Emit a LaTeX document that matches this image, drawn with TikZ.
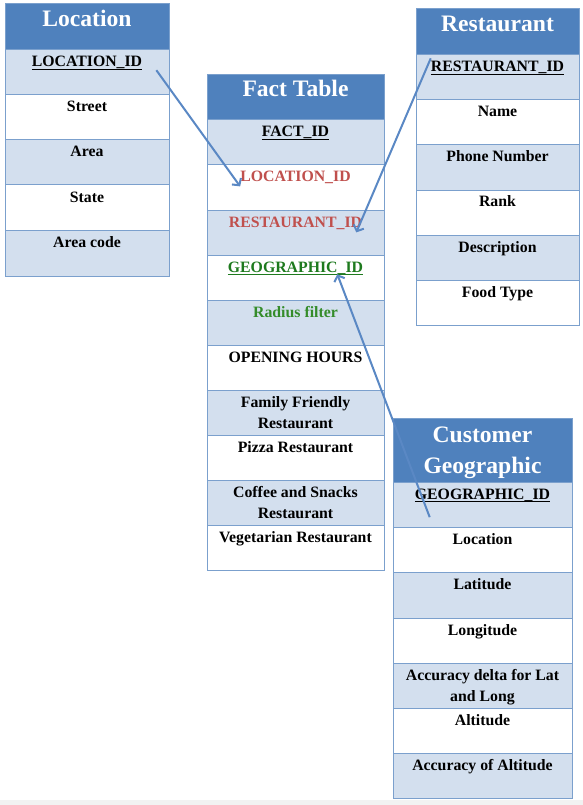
\documentclass[tikz,border=0pt]{standalone}
\usepackage{fontspec}
\setmainfont{Liberation Serif}
\usetikzlibrary{arrows.meta}
\usetikzlibrary{calc}

\definecolor{hdrblue}{RGB}{79,129,189}
\definecolor{rowblue}{RGB}{211,223,238}
\definecolor{edgeblue}{RGB}{123,160,205}
\definecolor{linkblue}{RGB}{90,136,196}
\definecolor{fkred}{RGB}{192,80,77}
\definecolor{geogreen}{RGB}{30,122,30}
\definecolor{radgreen}{RGB}{52,140,42}

\newcommand\fieldfont{\fontsize{15.8}{21}\selectfont\bfseries}
\newcommand\titlefont{\fontsize{23.6}{31}\selectfont\bfseries}
\newsavebox\keybox
\newcommand\keyline[1]{\sbox\keybox{#1}\rlap{\rule[-3pt]{\wd\keybox}{1.1pt}}\usebox\keybox}

\tikzset{
  hdr/.style={draw=edgeblue,line width=1pt,fill=hdrblue},
  oddrow/.style={draw=edgeblue,line width=1pt,fill=rowblue},
  evenrow/.style={draw=edgeblue,line width=1pt,fill=white},
  fld/.style={anchor=base,inner sep=0pt,font=\fieldfont,align=center},
  ttl/.style={anchor=base,inner sep=0pt,font=\titlefont,text=white,align=center},
  link/.style={draw=linkblue,line width=2pt,-{Straight Barb[length=5pt,width=11pt]}}
}

\begin{document}
\begin{tikzpicture}[x=1pt,y=-1pt]
\useasboundingbox (0,0) rectangle (583,805);
\fill[gray!10] (0,800) rectangle (583,805);

\draw[hdr] (5,4) rectangle (169,50);
\node[ttl] (loctitle) at (87,27) {Location};
\draw[oddrow] (5,50) rectangle (169,95);
\node[fld] (lockey) at (87,67) {\keyline{LOCATION\_ID}};
\draw[evenrow] (5,95) rectangle (169,140);
\node[fld] (locstreet) at (87,112) {Street};
\draw[oddrow] (5,140) rectangle (169,185);
\node[fld] (locarea) at (87,157) {Area};
\draw[evenrow] (5,185) rectangle (169,230);
\node[fld] (locstate) at (87,202) {State};
\draw[oddrow] (5,230) rectangle (169,276);
\node[fld] (loccode) at (87,247) {Area code};

\draw[hdr] (207,75) rectangle (384,120);
\node[ttl] (facttitle) at (295.5,97) {Fact Table};
\draw[oddrow] (207,120) rectangle (384,165);
\node[fld] (fkey) at (295.5,137) {\keyline{FACT\_ID}};
\draw[evenrow] (207,165) rectangle (384,210);
\node[fld,text=fkred] (flocid) at (295.5,182) {LOCATION\_ID};
\draw[oddrow] (207,210) rectangle (384,255);
\node[fld,text=fkred] (fresid) at (295.5,227) {RESTAURANT\_ID};
\draw[evenrow] (207,255) rectangle (384,300);
\node[fld,text=geogreen] (fgeoid) at (295.5,272) {\keyline{GEOGRAPHIC\_ID}};
\draw[oddrow] (207,300) rectangle (384,345);
\node[fld,text=radgreen] (fradius) at (295.5,317) {Radius filter};
\draw[evenrow] (207,345) rectangle (384,390);
\node[fld] (fhours) at (295.5,362) {OPENING HOURS};
\draw[oddrow] (207,390) rectangle (384,435);
\node[fld] (ffamily) at (295.5,428) {Family Friendly\\Restaurant};
\draw[evenrow] (207,435) rectangle (384,480);
\node[fld] (fpizza) at (295.5,452) {Pizza Restaurant};
\draw[oddrow] (207,480) rectangle (384,525);
\node[fld] (fcoffee) at (295.5,518) {Coffee and Snacks\\Restaurant};
\draw[evenrow] (207,525) rectangle (384,570);
\node[fld] (fveg) at (295.5,542) {Vegetarian Restaurant};

\draw[hdr] (416,9) rectangle (579,55);
\node[ttl] (restitle) at (497.5,32) {Restaurant};
\draw[oddrow] (416,55) rectangle (579,100);
\node[fld] (reskey) at (497.5,72) {\keyline{RESTAURANT\_ID}};
\draw[evenrow] (416,100) rectangle (579,145);
\node[fld] (resname) at (497.5,117) {Name};
\draw[oddrow] (416,145) rectangle (579,190);
\node[fld] (resphone) at (497.5,162) {Phone Number};
\draw[evenrow] (416,190) rectangle (579,235);
\node[fld] (resrank) at (497.5,207) {Rank};
\draw[oddrow] (416,235) rectangle (579,280);
\node[fld] (resdesc) at (497.5,252) {Description};
\draw[evenrow] (416,280) rectangle (579,325);
\node[fld] (resfood) at (497.5,297) {Food Type};

\draw[hdr] (393,418) rectangle (572,482);
\node[ttl] (cgtitle) at (482.5,473) {Customer\\Geographic};
\draw[oddrow] (393,482) rectangle (572,527);
\node[fld] (cgkey) at (482.5,499) {\keyline{GEOGRAPHIC\_ID}};
\draw[evenrow] (393,527) rectangle (572,572);
\node[fld] (cgloc) at (482.5,544) {Location};
\draw[oddrow] (393,572) rectangle (572,618);
\node[fld] (cglat) at (482.5,589) {Latitude};
\draw[evenrow] (393,618) rectangle (572,663);
\node[fld] (cglong) at (482.5,635) {Longitude};
\draw[oddrow] (393,663) rectangle (572,708);
\node[fld] (cgdelta) at (482.5,701) {Accuracy delta for Lat\\and Long};
\draw[evenrow] (393,708) rectangle (572,753);
\node[fld] (cgalt) at (482.5,725) {Altitude};
\draw[oddrow] (393,753) rectangle (572,798);
\node[fld] (cgaltacc) at (482.5,770) {Accuracy of Altitude};

\draw[link] ([xshift=14pt]lockey.south east) -- ([yshift=-2pt]flocid.south west);
\draw[link] ([yshift=3pt]reskey.north west) -- ([xshift=-6pt,yshift=-3pt]fresid.south east);
\draw[link] ([xshift=15pt,yshift=-15pt]cgkey.south west) -- ([xshift=-26pt,yshift=1pt]fgeoid.south east);
\end{tikzpicture}
\end{document}
